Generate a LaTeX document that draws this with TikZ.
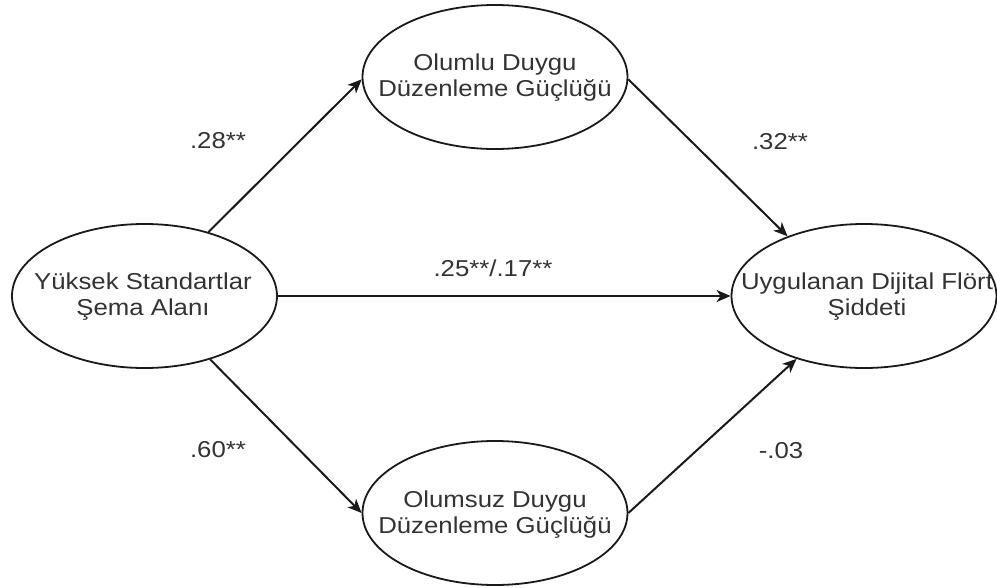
\documentclass[tikz,border=0pt]{standalone}
\usepackage{fontspec}
\setmainfont[FakeStretch=1.12]{Liberation Sans}
\usetikzlibrary{shapes.geometric,arrows.meta}
\definecolor{txtgray}{HTML}{333333}
\definecolor{linegray}{HTML}{1A1A1A}
\begin{document}
\begin{tikzpicture}[x=1pt,y=-1pt,
  ell/.style={draw=linegray, line width=1.8pt, ellipse, minimum width=265pt, minimum height=144pt, inner sep=0pt},
  txt/.style={align=center, text=txtgray, font=\fontsize{23}{26}\selectfont, inner sep=0pt},
  lab/.style={anchor=base, text=txtgray, font=\fontsize{23}{26}\selectfont, inner sep=0pt},
  conn/.style={line width=2pt, draw=linegray, -{Stealth[length=14pt,width=12pt,inset=4pt]}}
]
\useasboundingbox[fill=white] (0,0) rectangle (997,587);

% ellipses
\node[ell] (L) at (144.5,296) {};
\node[ell] (T) at (495,77) {};
\node[ell] (B) at (495,513) {};
\node[ell] (R) at (864,296) {};

% ellipse texts
\node[txt] (Lt) at (143,297) {Yüksek Standartlar\\Şema Alanı};
\node[txt] (Tt) at (495,78) {Olumlu Duygu\\Düzenleme Güçlüğü};
\node[txt] (Bt) at (495,515) {Olumsuz Duygu\\Düzenleme Güçlüğü};
\node[txt] (Rt) at (867,297) {Uygulanan Dijital Flört\\Şiddeti};

% connectors
\draw[conn] (L.45.7) -- (T.181);
\draw[conn] (T.-1.3) -- (R.142.6);
\draw[conn] (L.east) -- (R.west);
\draw[conn] (L.-44.3) -- (B.west);
\draw[conn] (B.east) -- (R.223.7);

% path labels
\node[lab] (l1) at (218,148) {.28**};
\node[lab] (l2) at (780,149) {.32**};
\node[lab] (l3) at (493,276) {.25**/.17**};
\node[lab] (l4) at (218,457) {.60**};
\node[lab] (l5) at (781,458) {-.03};
\end{tikzpicture}
\end{document}
